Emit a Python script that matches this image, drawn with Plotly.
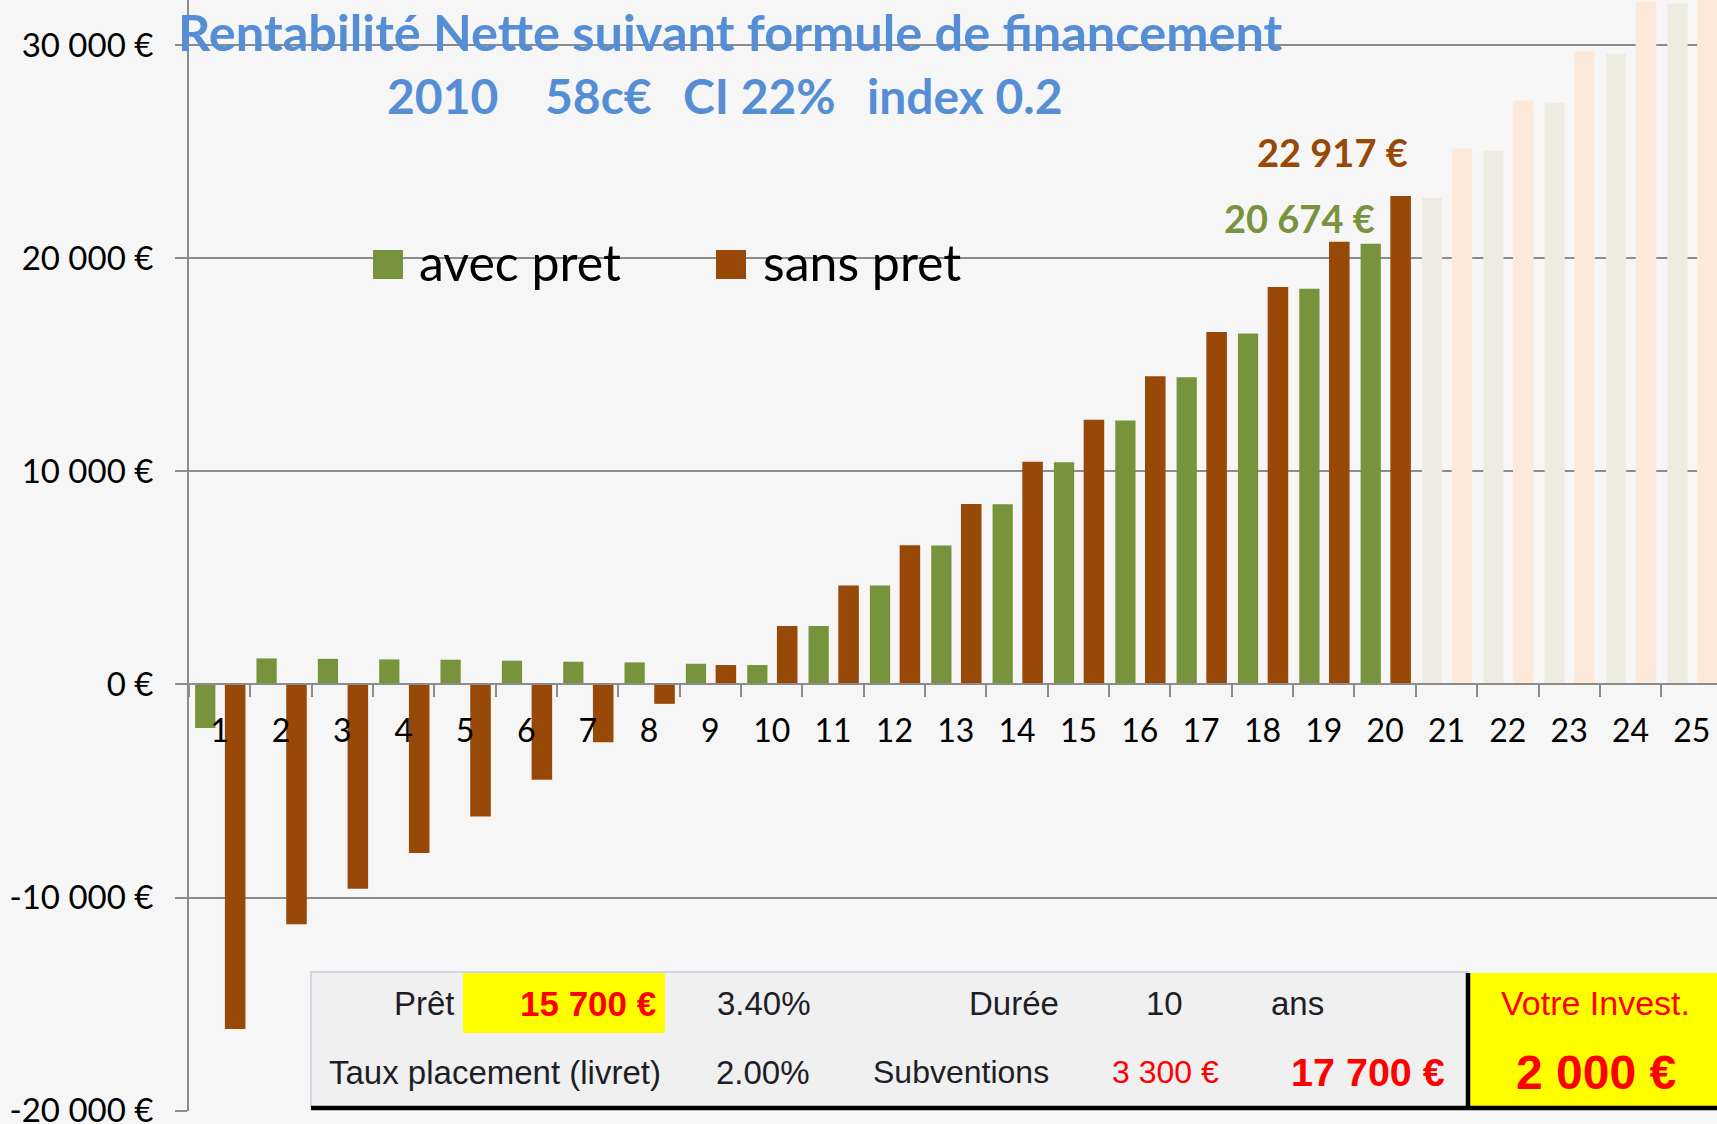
import plotly.graph_objects as go

# ---------------- data ----------------
years = ["1", "2", "3", "4", "5", "6", "7", "8", "9", "10", "11", "12", "13",
         "14", "15", "16", "17", "18", "19", "20", "21", "22", "23", "24", "25"]

avec_pret = [-2040, 1220, 1200, 1175, 1160, 1115, 1065, 1035, 970, 910,
             2740, 4640, 6520, 8450, 10420, 12380, 14410, 16460, 18560, 20674,
             22830, 25040, 27290, 29600, 31950]

sans_pret = [-16170, -11250, -9590, -7910, -6190, -4470, -2710, -910, 910, 2740,
             4640, 6530, 8460, 10450, 12420, 14460, 16530, 18640, 20770, 22917,
             25130, 27400, 29700, 32040, 34400]

y_ticks = [-20000, -10000, 0, 10000, 20000, 30000]
y_tick_text = ["-20 000 €", "-10 000 €", "0 €", "10 000 €", "20 000 €", "30 000 €"]

series_names = ["avec pret", "sans pret"]
label_year = "20"
label_avec = "20 674 €"
label_sans = "22 917 €"

title_line1 = "Rentabilité Nette suivant formule de financement"
title_line2 = ["2010", "58c€", "CI 22%", "index 0.2"]

# ---------------- style ----------------
GREEN, GREEN_PALE = "#77933C", "#EEECE1"
BROWN, BROWN_PALE = "#984807", "#FDE9D9"
N_STRONG = 20
avec_colors = [GREEN] * N_STRONG + [GREEN_PALE] * (len(years) - N_STRONG)
sans_colors = [BROWN] * N_STRONG + [BROWN_PALE] * (len(years) - N_STRONG)

BG = "#F6F6F6"
GRID = "#8C8C8C"
TITLE_BLUE = "#558ED5"
LATO = "Lato, Carlito, sans-serif"
NARROW = "Liberation Sans Narrow, Arial Narrow, Liberation Sans, Arial, sans-serif"

W, H = 1717, 1124
ML, MR, MT, MB = 189, 0, 0, 13
PW, PH = W - ML - MR, H - MT - MB
Y0, Y1 = -20012, 32110


def px(x):
    return (x - ML) / PW


def py(y):
    return (PH + MT - y) / PH


fig = go.Figure()
fig.add_bar(x=years, y=avec_pret, name=series_names[0],
            marker=dict(color=avec_colors, line=dict(width=0)),
            offset=-0.40, width=0.33, showlegend=False)
fig.add_bar(x=years, y=sans_pret, name=series_names[1],
            marker=dict(color=sans_colors, line=dict(width=0)),
            offset=0.085, width=0.335, showlegend=False)

zero_pos = (0 - Y0) / (Y1 - Y0)

fig.update_layout(
    width=W, height=H,
    margin=dict(l=ML, r=MR, t=MT, b=MB, pad=0, autoexpand=False),
    paper_bgcolor=BG, plot_bgcolor=BG,
    barmode="overlay",
    showlegend=False,
    xaxis=dict(type="category", range=[-0.5, 24.41], anchor="free", position=zero_pos,
               automargin=False,
               showgrid=False, zeroline=False, showline=True, linecolor=GRID, linewidth=2,
               ticks="outside", tickson="boundaries", ticklen=12, tickwidth=2, tickcolor=GRID,
               tickfont=dict(family=LATO, size=32, color="#000000"),
               ticklabelstandoff=18),
    yaxis=dict(range=[Y0, Y1], tickvals=y_ticks, ticktext=y_tick_text,
               automargin=False,
               showgrid=True, gridcolor=GRID, gridwidth=2, zeroline=False,
               showline=True, linecolor=GRID, linewidth=2,
               ticks="outside", ticklen=12, tickwidth=2, tickcolor=GRID,
               tickfont=dict(family=LATO, size=33, color="#000000"),
               ticklabelstandoff=15, ticklabeloverflow="allow"),
)

ann = []
shapes = []

# title
ann.append(dict(text=f"<b>{title_line1}</b>", x=px(176), y=py(32), xref="paper", yref="paper",
                xanchor="left", yanchor="middle", showarrow=False,
                font=dict(family=LATO, size=50.5, color=TITLE_BLUE)))
for txt, xl in zip(title_line2, [385, 543, 681, 865]):
    ann.append(dict(text=f"<b>{txt}</b>", x=px(xl), y=py(96), xref="paper", yref="paper",
                    xanchor="left", yanchor="middle", showarrow=False,
                    font=dict(family=LATO, size=48, color=TITLE_BLUE)))

# legend (custom, large squares)
for (x0, col, name, tx) in [(373, GREEN, series_names[0], 417), (716, BROWN, series_names[1], 761)]:
    shapes.append(dict(type="rect", xref="paper", yref="paper",
                       x0=px(x0), x1=px(x0 + 30), y0=py(279), y1=py(250),
                       fillcolor=col, line=dict(width=0), layer="above"))
    ann.append(dict(text=name, x=px(tx), y=py(262), xref="paper", yref="paper",
                    xanchor="left", yanchor="middle", showarrow=False,
                    font=dict(family=LATO, size=50, color="#000000")))

# data labels (category index on the category axis)
li = years.index(label_year)
ann.append(dict(text=f"<b>{label_sans}</b>", x=li, y=sans_pret[li], xref="x", yref="y",
                xanchor="right", yanchor="middle", xshift=25, yshift=44, showarrow=False,
                font=dict(family=LATO, size=38, color=BROWN)))
ann.append(dict(text=f"<b>{label_avec}</b>", x=li, y=avec_pret[li], xref="x", yref="y",
                xanchor="right", yanchor="middle", xshift=-8, yshift=26, showarrow=False,
                font=dict(family=LATO, size=38, color=GREEN)))

# ---------------- info table ----------------
shapes.append(dict(type="rect", xref="paper", yref="paper",
                   x0=px(311), x1=px(1468), y0=py(1108), y1=py(972),
                   fillcolor="#F0F0F0", line=dict(color="#C5CEDD", width=1.5), layer="above"))
shapes.append(dict(type="rect", xref="paper", yref="paper",
                   x0=px(1468), x1=px(1720), y0=py(1108), y1=py(973),
                   fillcolor="#FFFF00", line=dict(width=0), layer="above"))
shapes.append(dict(type="rect", xref="paper", yref="paper",
                   x0=px(463), x1=px(665), y0=py(1033), y1=py(973),
                   fillcolor="#FFFF00", line=dict(width=0), layer="above"))
shapes.append(dict(type="line", xref="paper", yref="paper",
                   x0=px(1468), x1=px(1468), y0=py(1110), y1=py(973),
                   line=dict(color="#000000", width=4.5), layer="above"))
shapes.append(dict(type="line", xref="paper", yref="paper",
                   x0=px(311), x1=px(1720), y0=py(1108), y1=py(1108),
                   line=dict(color="#000000", width=4.5), layer="above"))

R1, R2 = 1003, 1072
TXT = "#1E1E28"
RED = "#FF0000"
table_items = [
    ("Prêt", 457, R1, "right", 33, TXT, False),
    ("15 700 €", 658, R1, "right", 35, RED, True),
    ("3.40%", 764, R1, "center", 33, TXT, False),
    ("Durée", 1014, R1, "center", 33, TXT, False),
    ("10", 1164, R1, "center", 33, TXT, False),
    ("ans", 1297, R1, "center", 33, TXT, False),
    ("Taux placement (livret)", 495, R2, "center", 33, TXT, False),
    ("2.00%", 763, R2, "center", 33, TXT, False),
    ("Subventions", 961, R2, "center", 32, TXT, False),
    ("3 300 €", 1165, R2, "center", 32, RED, False),
    ("17 700 €", 1368, R2, "center", 39.5, RED, True),
    ("Votre Invest.", 1595, R1, "center", 34, RED, False),
    ("2 000 €", 1596, R2, "center", 48, RED, True),
]
for txt, x, y, xa, size, col, bold in table_items:
    ann.append(dict(text=f"<b>{txt}</b>" if bold else txt, x=px(x), y=py(y),
                    xref="paper", yref="paper", xanchor=xa, yanchor="middle",
                    showarrow=False, font=dict(family=NARROW, size=size, color=col)))

fig.update_layout(annotations=ann, shapes=shapes)
fig.write_html("out.html", config={"displayModeBar": False},
               post_script="document.body.style.margin='0';document.body.style.overflow='hidden';")
